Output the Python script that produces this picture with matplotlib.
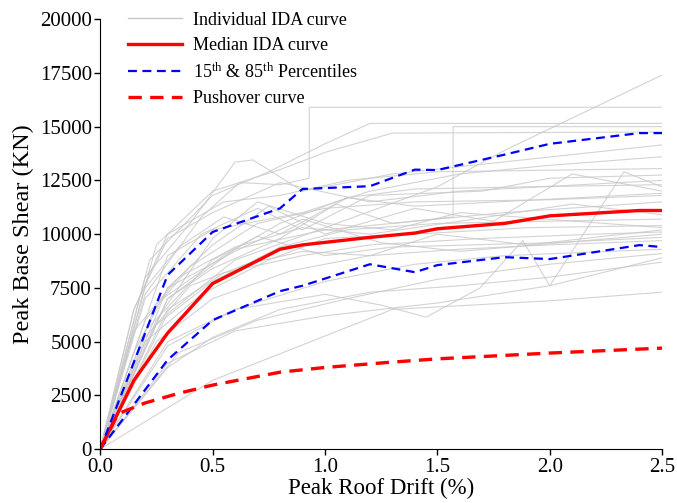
import matplotlib
matplotlib.use("Agg")
import matplotlib.pyplot as plt
from matplotlib.lines import Line2D

plt.rcParams['font.family'] = ['Liberation Serif', 'DejaVu Serif']
plt.rcParams['mathtext.fontset'] = 'custom'
plt.rcParams['mathtext.rm'] = 'Liberation Serif'
plt.rcParams['mathtext.it'] = 'Liberation Serif:italic'

# ---- individual IDA curves (approx.) ----
ida_curves = [
    ([0, 0.2, 0.45, 0.62, 0.8, 0.93, 0.93, 2.5], [0, 7200, 10800, 12400, 12300, 12600, 15900, 15900]),
    ([0, 0.3, 0.6, 1.0, 1.3, 1.57, 1.57, 2.5], [0, 7000, 9300, 10200, 10500, 10800, 15000, 15000]),
    ([0, 0.3, 0.6, 1.0, 1.5, 1.8, 2.5], [0, 6300, 8800, 10300, 12200, 13900, 17400]),
    ([0, 0.22, 0.5, 0.75, 1.0, 1.2, 2.5], [0, 8800, 11800, 12900, 14200, 15150, 15150]),
    ([0, 0.25, 0.5, 0.8, 1.0, 1.3, 2.5], [0, 9500, 12000, 13000, 13800, 14700, 14750]),
    ([0, 0.2, 0.4, 0.6, 0.68, 0.9, 1.3, 2.5], [0, 8000, 10500, 13350, 13450, 12000, 12800, 14150]),
    ([0, 0.3, 0.5, 0.9, 1.2, 1.6, 2.0, 2.5], [0, 9000, 10200, 11000, 12000, 12800, 13200, 13600]),
    ([0, 0.15, 0.3, 0.55, 0.8, 1.1, 1.5, 2.5], [0, 6500, 10000, 11500, 11800, 12500, 12900, 13050]),
    ([0, 0.2, 0.45, 0.7, 0.9, 1.2, 1.7, 2.0, 2.5], [0, 7000, 10000, 11200, 10200, 11800, 12000, 12600, 12750]),
    ([0, 0.25, 0.55, 0.8, 1.1, 1.4, 1.9, 2.5], [0, 6800, 9000, 10500, 11700, 12100, 12200, 12300]),
    ([0, 0.3, 0.5, 0.75, 1.0, 1.4, 1.75, 2.1, 2.5], [0, 7500, 9500, 11300, 10000, 11200, 10600, 12800, 12000]),
    ([0, 0.3, 0.6, 1.0, 1.25, 1.45, 1.69, 1.88, 2.0, 2.33, 2.5],
     [0, 5000, 6500, 7200, 6700, 6140, 7500, 9700, 7600, 12900, 12200]),
    ([0, 0.2, 0.4, 0.7, 1.0, 1.4, 2.0, 2.5], [0, 6000, 8500, 10500, 11200, 11500, 11600, 11800]),
    ([0, 0.3, 0.5, 0.8, 1.05, 1.3, 1.8, 2.5], [0, 7000, 8400, 9800, 11400, 10500, 11000, 11500]),
    ([0, 0.15, 0.35, 0.6, 0.9, 1.2, 1.6, 2.1, 2.5], [0, 5500, 8000, 9400, 10300, 10000, 10600, 11400, 10900]),
    ([0, 0.25, 0.5, 0.8, 1.1, 1.5, 2.5], [0, 5800, 7800, 9400, 10200, 10500, 10700]),
    ([0, 0.2, 0.45, 0.75, 1.0, 1.4, 1.9, 2.5], [0, 5000, 7200, 8800, 9800, 10000, 10300, 10400]),
    ([0, 0.3, 0.55, 0.9, 1.2, 1.7, 2.2, 2.5], [0, 6500, 8200, 9000, 9500, 9800, 10000, 10100]),
    ([0, 0.2, 0.5, 0.7, 1.0, 1.3, 2.0, 2.5], [0, 5500, 8800, 9900, 9000, 9400, 9600, 9850]),
    ([0, 0.25, 0.5, 0.85, 1.2, 1.6, 2.0, 2.5], [0, 5000, 7000, 8300, 9000, 9300, 9500, 9700]),
    ([0, 0.3, 0.6, 1.0, 1.4, 1.8, 2.5], [0, 4800, 6500, 7800, 8600, 9000, 9300]),
    ([0, 0.35, 0.7, 1.1, 1.5, 2.0, 2.5], [0, 4500, 6000, 7000, 7900, 8600, 9100]),
    ([0, 0.3, 0.6, 1.0, 1.5, 2.0, 2.5], [0, 4000, 5500, 6200, 6800, 7600, 8900]),
    ([0, 0.5, 1.3, 2.0, 2.5], [0, 3200, 6500, 6900, 7300]),
    ([0, 0.15, 0.3, 0.5, 0.8, 1.2, 1.6, 2.5], [0, 6500, 9800, 11000, 12400, 11500, 12000, 12500]),
    ([0, 0.2, 0.35, 0.55, 0.8, 1.1, 1.4, 2.5], [0, 7500, 9400, 10800, 10000, 11700, 11300, 11900]),
    ([0, 0.25, 0.5, 0.7, 1.0, 1.3, 1.6, 2.5], [0, 6000, 9800, 11500, 10500, 10200, 11000, 10300]),
    ([0, 0.3, 0.5, 0.8, 1.2, 1.6, 2.0, 2.5], [0, 3800, 5200, 6500, 7300, 7600, 8000, 8700]),
    ([0, 0.15, 0.3, 0.6, 0.9, 1.25, 1.6, 2.5], [0, 4500, 7500, 9200, 10700, 9600, 9200, 10000]),
    ([0, 0.2, 0.4, 0.65, 0.9, 1.2, 1.5, 1.9, 2.5], [0, 5200, 7600, 8600, 9200, 9000, 10000, 9500, 10200]),
]

# ---- median / percentiles / pushover ----
med_x = [0, 0.15, 0.3, 0.5, 0.8, 0.9, 1.2, 1.4, 1.5, 1.8, 2.0, 2.4, 2.5]
med_y = [0, 3200, 5400, 7700, 9300, 9500, 9850, 10050, 10250, 10500, 10850, 11100, 11100]

p85_x = [0, 0.3, 0.5, 0.8, 0.9, 1.2, 1.4, 1.5, 1.8, 2.0, 2.4, 2.5]
p85_y = [0, 8100, 10100, 11200, 12100, 12230, 13000, 12980, 13700, 14200, 14700, 14700]

p15_x = [0, 0.3, 0.5, 0.8, 0.9, 1.2, 1.4, 1.5, 1.8, 2.0, 2.4, 2.5]
p15_y = [0, 4150, 6000, 7350, 7600, 8600, 8230, 8560, 8930, 8840, 9490, 9400]

push_x = [0, 0.08, 0.2, 0.35, 0.5, 0.8, 1.0, 1.3, 1.5, 2.0, 2.5]
push_y = [0, 1650, 2150, 2600, 2980, 3580, 3800, 4050, 4200, 4470, 4700]

fig = plt.figure(figsize=(6.77, 5.03), dpi=100)
ax = fig.add_axes([0.148, 0.107, 0.83, 0.855])

for cx, cy in ida_curves:
    ax.plot(cx, cy, color='#c8c8c8', lw=0.8, alpha=0.8)

ax.plot(med_x, med_y, color='red', lw=2.4)
ax.plot(p85_x, p85_y, color='blue', lw=1.6, ls=(0, (4, 2.5)))
ax.plot(p15_x, p15_y, color='blue', lw=1.6, ls=(0, (4, 2.5)))
ax.plot(push_x, push_y, color='red', lw=2.4, ls=(0, (4, 2.5)))

ax.set_xlim(0, 2.5)
ax.set_ylim(0, 20000)
ax.set_xticks([0, 0.5, 1.0, 1.5, 2.0, 2.5])
ax.set_xticklabels(['0.0', '0.5', '1.0', '1.5', '2.0', '2.5'])
ax.set_yticks(range(0, 20001, 2500))
ax.tick_params(labelsize=15, length=4, width=1, pad=2)
ax.spines['top'].set_visible(False)
ax.spines['right'].set_visible(False)
ax.set_xlabel('Peak Roof Drift (%)', fontsize=16.5, labelpad=1)
ax.set_ylabel('Peak Base Shear (KN)', fontsize=17.5, labelpad=4)

handles = [
    Line2D([], [], color='#c8c8c8', lw=1),
    Line2D([], [], color='red', lw=2.4),
    Line2D([], [], color='blue', lw=1.6, ls=(0, (4, 2.5))),
    Line2D([], [], color='red', lw=2.4, ls=(0, (4, 2.5))),
]
labels = ['Individual IDA curve', 'Median IDA curve',
          r'15$^{\mathrm{th}}$ & 85$^{\mathrm{th}}$ Percentiles', 'Pushover curve']
ax.legend(handles, labels, loc='upper left', bbox_to_anchor=(0.02, 1.055),
          frameon=False, fontsize=13, handlelength=3.0, labelspacing=0.46,
          handletextpad=0.6)

fig.savefig('out.png', dpi=100)
